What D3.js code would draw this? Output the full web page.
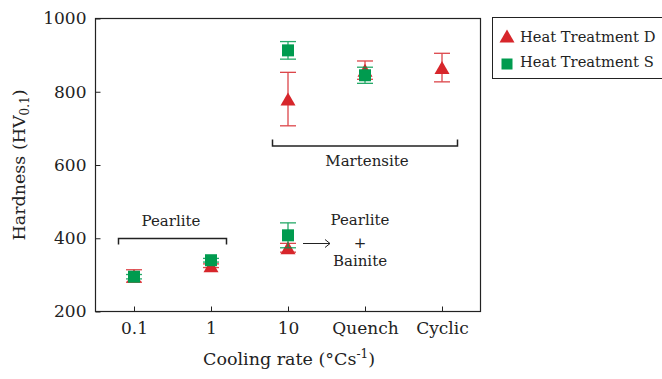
<!DOCTYPE html>
<html><head><meta charset="utf-8">
<script src="https://cdn.jsdelivr.net/npm/d3@7"></script>
<style>body{margin:0;background:#fff}svg{display:block}text{font-family:"DejaVu Serif",serif;fill:#222}</style>
</head><body><svg id="c" width="662" height="379"></svg>
<script>
const categories = ["0.1","1","10","Quench","Cyclic"];
const yTicks = [200,400,600,800,1000];
const dCat = ["0.1","1","10","10","Quench","Cyclic"];
const dVal = [297, 325, 374, 780, 859, 866];
const dErr = [17, 5, 12, 73, 25, 39];
const sCat = ["0.1","1","10","10","Quench"];
const sVal = [295, 340, 408, 913, 845];
const sErr = [6, 5, 34, 24, 22];
const seriesNames = ["Heat Treatment D","Heat Treatment S"];
const RED = "#d7262b", GREEN = "#009b4f";

const svg = d3.select("#c");
const L=95.5, R=480.5, T=18.5, B=311.5;
const x = d3.scalePoint().domain(categories).range([L,R]).padding(0.5);
const y = d3.scaleLinear().domain([200,1000]).range([B,T]);

// frame
svg.append("rect").attr("x",L).attr("y",T).attr("width",R-L).attr("height",B-T)
  .attr("fill","none").attr("stroke","#222").attr("stroke-width",1.2);

const xa = svg.append("g").attr("transform",`translate(0,${B})`)
  .call(d3.axisBottom(x).tickSize(-5).tickPadding(10));
xa.select(".domain").remove();
xa.selectAll("text").attr("font-size",17).attr("font-family","DejaVu Serif").attr("fill","#222");
xa.selectAll("line").attr("stroke","#222");

const ya = svg.append("g").attr("transform",`translate(${L},0)`)
  .call(d3.axisLeft(y).tickValues(yTicks).tickSize(-5).tickPadding(9).tickFormat(d3.format("d")));
ya.select(".domain").remove();
ya.selectAll("text").attr("font-size",17).attr("font-family","DejaVu Serif").attr("fill","#222");
ya.selectAll("line").attr("stroke","#222");

// axis titles
const yt = svg.append("text").attr("transform","translate(25,165) rotate(-90)")
  .attr("text-anchor","middle").attr("font-size",17.5);
yt.append("tspan").text("Hardness (HV");
yt.append("tspan").attr("font-size",12).attr("dy",4).text("0.1");
yt.append("tspan").attr("dy",-4).text(")");

const xt = svg.append("text").attr("x",289).attr("y",365).attr("text-anchor","middle").attr("font-size",17.5);
xt.append("tspan").text("Cooling rate (°Cs");
xt.append("tspan").attr("font-size",12).attr("dy",-7).text("-1");
xt.append("tspan").attr("dy",7).text(")");

// error bars
function errBars(cats, vals, errs, color){
  const g = svg.append("g").attr("stroke",color).attr("stroke-width",1.3).attr("opacity",0.85);
  cats.forEach((c,i)=>{
    const cx = x(c), y1 = y(vals[i]+errs[i]), y2 = y(vals[i]-errs[i]);
    g.append("line").attr("x1",cx).attr("x2",cx).attr("y1",y1).attr("y2",y2);
    g.append("line").attr("x1",cx-8).attr("x2",cx+8).attr("y1",y1).attr("y2",y1);
    g.append("line").attr("x1",cx-8).attr("x2",cx+8).attr("y1",y2).attr("y2",y2);
  });
}
const tri = (cx,cy)=>`M${cx},${cy-6.5}L${cx+7.5},${cy+6.5}L${cx-7.5},${cy+6.5}Z`;
errBars(dCat,dVal,dErr,RED);
svg.append("g").selectAll("path").data(dCat).join("path")
  .attr("d",(c,i)=>tri(x(c),y(dVal[i]))).attr("fill",RED);
errBars(sCat,sVal,sErr,GREEN);
svg.append("g").selectAll("rect").data(sCat).join("rect")
  .attr("x",c=>x(c)-6).attr("y",(c,i)=>y(sVal[i])-6).attr("width",12).attr("height",12).attr("fill",GREEN);

// annotations
const br = svg.append("g").attr("fill","none").attr("stroke","#222").attr("stroke-width",1.5);
br.append("path").attr("d","M118.5,244.5V238.5H226.5V244.5");
br.append("path").attr("d","M272.5,139.5V146H457.5V139.5");
const AF = 15;
svg.append("text").attr("x",171).attr("y",226).attr("text-anchor","middle").attr("font-size",AF).text("Pearlite");
svg.append("text").attr("x",367).attr("y",166).attr("text-anchor","middle").attr("font-size",AF).text("Martensite");
svg.append("text").attr("x",360).attr("y",225).attr("text-anchor","middle").attr("font-size",AF).text("Pearlite");
svg.append("text").attr("x",360).attr("y",248).attr("text-anchor","middle").attr("font-size",AF).text("+");
svg.append("text").attr("x",360).attr("y",266).attr("text-anchor","middle").attr("font-size",AF).text("Bainite");
const ar = svg.append("g").attr("stroke","#222").attr("fill","none").attr("stroke-width",1);
ar.append("line").attr("x1",303).attr("x2",330).attr("y1",243.5).attr("y2",243.5);
ar.append("path").attr("d","M325,239.5L330,243.5L325,247.5");

// legend
svg.append("rect").attr("x",492.5).attr("y",17.5).attr("width",180).attr("height",61)
  .attr("fill","none").attr("stroke","#222").attr("stroke-width",1);
svg.append("path").attr("d",tri(507,36)).attr("fill",RED);
svg.append("rect").attr("x",501.5).attr("y",58.5).attr("width",11).attr("height",11).attr("fill",GREEN);
svg.append("text").attr("x",520).attr("y",42).attr("font-size",14.7).text(seriesNames[0]);
svg.append("text").attr("x",520).attr("y",67).attr("font-size",14.7).text(seriesNames[1]);
</script></body></html>
